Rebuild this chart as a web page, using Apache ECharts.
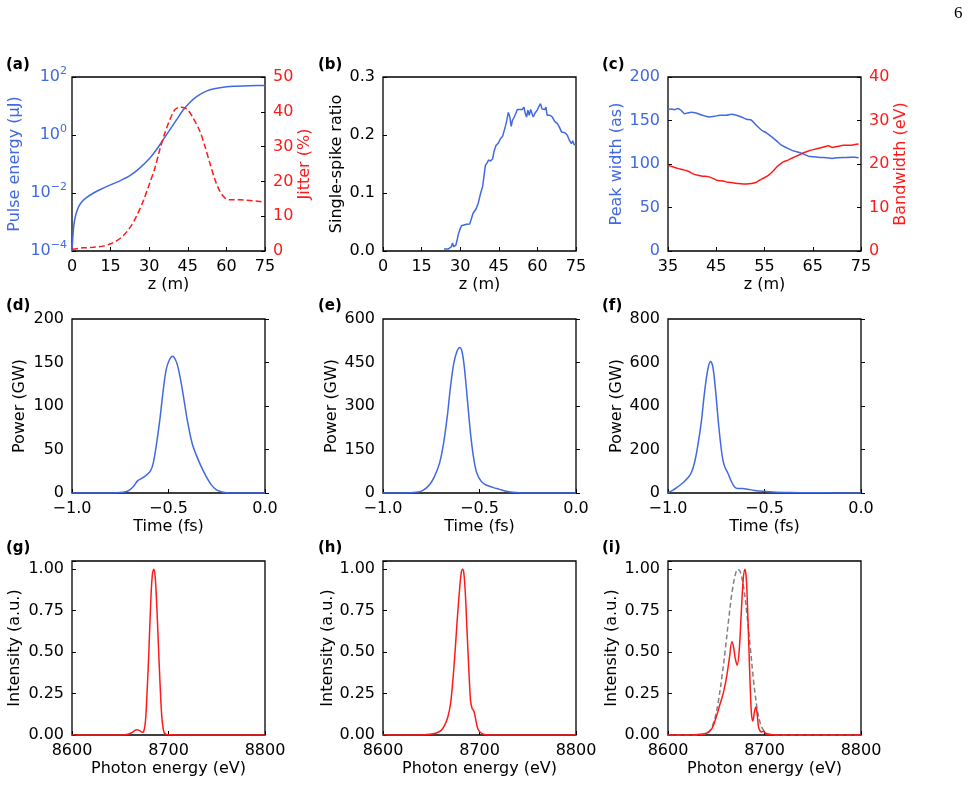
<!DOCTYPE html>
<html><head><meta charset="utf-8">
<script src="https://cdn.jsdelivr.net/npm/echarts@6/dist/echarts.min.js"></script>
<style>html,body{margin:0;padding:0;background:#fff}#c{width:971px;height:785px}</style>
</head><body><div id="c"></div>
<script>
// ---------- DATA ----------
// (a) pulse energy (uJ, log axis) and jitter (%) vs z (m)
const aZ = [0,0.26,0.65,1.3,2.3,3.6,5.6,8.2,10.8,14.7,18.6,22.5,26.3,30.2,32.8,35.4,38.0,40.6,43.2,45.8,48.4,51.0,53.6,57.5,62.7,69.2,75];
const aEnergy = [1e-4,2.4e-4,6.9e-4,1.55e-3,2.95e-3,4.7e-3,6.9e-3,9.8e-3,0.0129,0.0186,0.0263,0.0398,0.0724,0.158,0.309,0.676,1.51,3.31,7.24,13.2,20.9,28.8,36.3,42.7,47.9,50.1,51.3];
const aJitterZ = [0,4.3,8.2,12.1,14.7,17.3,19.9,22.5,25.0,27.6,30.2,32.2,34.1,36.1,38.0,40.0,41.9,43.9,45.2,47.1,49.7,51.7,53.6,55.6,57.5,59.5,61.4,65.3,69.2,73.1,75];
const aJitter = [0.5,0.9,1.05,1.4,2.0,2.9,4.4,6.7,9.9,14.2,19.5,23.8,29.1,33.9,37.7,40.6,41.3,41.1,40.4,38.2,34.4,30.0,25.2,20.4,17.1,15.2,14.7,14.7,14.5,14.2,14.0];
// (b) single-spike ratio vs z
const bZ = [23.7,25.3,26.0,26.6,27.0,27.5,28.3,28.8,29.2,29.8,30.5,31.1,32.4,33.7,34.4,35.0,36.1,37.0,37.9,38.7,39.3,39.8,40.5,41.0,41.8,42.6,43.1,43.9,44.8,45.7,46.5,47.0,47.5,48.0,48.7,49.3,49.8,50.3,51.0,51.6,52.2,53.2,54.1,54.8,55.3,55.8,56.3,56.8,57.4,57.9,58.4,59.0,59.9,60.7,61.2,61.8,62.3,62.9,63.3,63.8,64.9,65.8,66.8,67.7,68.5,69.4,70.7,71.6,72.4,73.2,73.7,74.2,75.0];
const bRatio = [0.0034,0.0034,0.006,0.0075,0.014,0.0075,0.010,0.019,0.0275,0.036,0.0436,0.042,0.046,0.0465,0.0488,0.065,0.072,0.082,0.099,0.111,0.131,0.148,0.152,0.157,0.155,0.159,0.171,0.182,0.186,0.194,0.198,0.200,0.214,0.223,0.239,0.231,0.215,0.225,0.231,0.237,0.244,0.244,0.244,0.248,0.237,0.231,0.243,0.234,0.244,0.237,0.231,0.237,0.243,0.25,0.254,0.245,0.248,0.244,0.248,0.234,0.234,0.231,0.223,0.220,0.214,0.205,0.204,0.200,0.191,0.185,0.19,0.184,0.182];
// (c) peak width (as) and bandwidth (eV) vs z
const cWidthZ = [35,35.6,36.3,37.0,37.7,38.4,39.1,39.8,40.8,41.5,42.6,43.6,44.7,45.7,47.1,48.1,49.2,50.2,51.3,52.3,53.3,54.4,55.4,56.5,57.5,58.5,59.6,60.6,61.7,63.1,64.1,65.1,66.5,67.9,69.0,70.0,71.4,72.8,73.8,74.5];
const cWidth = [162.5,163.3,162.5,163.7,161.8,157.9,158.7,159.5,158.7,157.2,155.3,154.1,154.9,156.0,156.0,157.2,156.0,154.1,151.4,150.3,144.5,138.8,135.8,131.2,126.6,121.6,118.5,115.9,114.0,111.3,109.0,108.2,107.5,107.1,106.3,107.1,107.5,107.8,107.8,107.1];
const cBandZ = [35,36.0,37.0,38.1,39.1,40.1,41.2,42.2,43.3,44.3,45.3,46.4,47.4,48.5,49.5,50.6,51.3,52.3,53.3,54.0,54.7,55.8,56.8,57.8,58.9,59.9,61.0,62.0,63.1,64.1,65.1,66.2,67.2,68.3,69.0,70.0,71.4,72.8,73.8,74.5];
const cBand = [19.7,19.35,19.0,18.7,18.4,17.8,17.4,17.2,17.1,16.7,16.2,16.1,15.8,15.7,15.5,15.4,15.4,15.5,15.8,16.3,16.7,17.4,18.4,19.6,20.5,20.9,21.5,22.0,22.6,23.0,23.3,23.6,23.9,24.2,23.8,24.0,24.3,24.3,24.5,24.6];
// (d)(e)(f) power (GW) vs time (fs)
const dTime = [-1.0,-0.8,-0.736,-0.710,-0.684,-0.659,-0.641,-0.616,-0.595,-0.581,-0.564,-0.547,-0.529,-0.512,-0.495,-0.478,-0.464,-0.452,-0.434,-0.417,-0.400,-0.378,-0.357,-0.331,-0.305,-0.279,-0.253,-0.228,-0.202,-0.167,0];
const dPower = [0,0,0.8,2.3,6.9,14.2,16.5,20.3,24.9,32.6,53.6,80.5,114.9,141.7,153.2,157.1,153.2,145.6,126.4,103.4,80.5,57.5,44.1,30.6,19.2,9.6,3.8,1.5,0.4,0,0];
const eTime = [-1.0,-0.897,-0.828,-0.793,-0.759,-0.733,-0.707,-0.686,-0.667,-0.650,-0.633,-0.617,-0.603,-0.593,-0.581,-0.569,-0.555,-0.543,-0.529,-0.514,-0.491,-0.466,-0.431,-0.397,-0.362,-0.328,-0.293,-0.259,0];
const ePower = [0,0,2.3,9.2,28.7,57.5,103,172,264,368,448,488,502,494,448,368,264,184,115,69,40,27.6,19.5,12.6,5.7,2.3,0.6,0,0];
const fTime = [-1.0,-0.976,-0.950,-0.924,-0.898,-0.880,-0.863,-0.846,-0.828,-0.811,-0.794,-0.780,-0.768,-0.754,-0.737,-0.719,-0.707,-0.690,-0.672,-0.655,-0.638,-0.612,-0.586,-0.551,-0.508,-0.456,-0.369,-0.283,-0.196,0];
const fPower = [3,12,28,46,69,92,138,215,322,460,567,605,582,475,307,169,123,92,54,28,21,21,17,12,8,4.6,2.3,1.5,0.8,0];
// (g)(h)(i) intensity (a.u.) vs photon energy (eV)
const gEnergy = [8600,8652.8,8657.9,8661.4,8664.8,8667.2,8670,8672.8,8674.5,8676.2,8677.9,8679.7,8681.4,8683.1,8684.8,8686.2,8687.9,8689.6,8691.4,8693.1,8695.2,8697.6,8701,8711,8800];
const gIntensity = [0,0,0.004,0.012,0.026,0.032,0.026,0.016,0.024,0.089,0.27,0.51,0.774,0.956,1.0,0.956,0.774,0.532,0.29,0.109,0.018,0.004,0.002,0,0];
const hEnergy = [8600,8637.9,8648.3,8655.2,8660.3,8663.8,8667.2,8670,8672.4,8674.8,8676.9,8679.3,8681,8682.4,8683.8,8685.5,8687.2,8689,8690.7,8692.4,8694.1,8695.9,8698.3,8701.7,8706.9,8717,8800];
const hIntensity = [0,0,0.004,0.012,0.028,0.058,0.109,0.19,0.33,0.512,0.694,0.875,0.976,1.0,0.976,0.835,0.613,0.391,0.21,0.159,0.145,0.099,0.038,0.012,0.002,0,0];
const iEnergy = [8600,8623,8633.4,8640.3,8645.5,8650,8654.1,8657.6,8661,8663.8,8666.2,8667.9,8669.7,8671.7,8673.8,8675.9,8677.9,8679.6,8681,8682.4,8683.8,8685.2,8686.5,8687.9,8689.6,8691,8692.4,8693.8,8695.5,8697.2,8699,8700.7,8704.1,8712.7,8800];
const iIntensity = [0,0,0.004,0.012,0.038,0.109,0.19,0.26,0.36,0.472,0.562,0.532,0.462,0.421,0.512,0.734,0.935,1.0,0.956,0.774,0.532,0.29,0.129,0.085,0.139,0.169,0.129,0.048,0.024,0.018,0.022,0.012,0.004,0,0];
const iRefEnergy = [8600,8626.5,8636.9,8642.1,8645.5,8649,8652.4,8655.9,8659.3,8662.8,8666.2,8669.7,8672.4,8674.8,8678.3,8681.7,8685.2,8688.6,8692.1,8695.5,8699,8702.4,8707.6,8712.7,8800];
const iRefIntensity = [0,0,0.004,0.018,0.048,0.109,0.21,0.351,0.512,0.694,0.855,0.966,1.0,0.986,0.895,0.734,0.532,0.331,0.169,0.073,0.028,0.008,0.002,0,0];
const panelLabels = ['(a)','(b)','(c)','(d)','(e)','(f)','(g)','(h)','(i)'];

// ---------- LAYOUT / STYLE ----------
const FONT = 'DejaVu Sans';
const BLUE = '#4169e1', RED = '#ff1a1a', GRAY = '#808080';
const COLS = [72, 383, 668], ROWS = [77, 319, 561], W = 193, H = 174;
const grids = [], xAxes = [], yAxes = [], series = [];

function addGrid(r, c) {
  grids.push({left: COLS[c], top: ROWS[r], width: W, height: H, show: true,
    borderColor: '#000', borderWidth: 1.3, containLabel: false, outerBoundsMode: 'none'});
  return grids.length - 1;
}
function tick() { return {show: true, inside: true, length: 4, lineStyle: {color: '#000', width: 1}}; }
const intFmt = v => String(Math.round(v));
const fix1 = v => (v < -1e-9 ? '\u2212' : '') + Math.abs(v).toFixed(1);
const fix2 = v => v > 1.0001 ? '' : v.toFixed(2);

function addX(gi, min, max, interval, name, fmt, gap) {
  xAxes.push({type: 'value', gridIndex: gi, min, max, interval, name, nameLocation: 'middle',
    nameGap: gap, nameTextStyle: {fontSize: 16, color: '#000', fontFamily: FONT},
    axisLine: {show: false}, axisTick: tick(), splitLine: {show: false},
    axisLabel: {fontSize: 16, color: '#000', fontFamily: FONT, margin: 8, formatter: fmt}});
  return xAxes.length - 1;
}
function addY(gi, o) {
  const color = o.color || '#000';
  const ax = {type: o.type || 'value', gridIndex: gi, min: o.min, max: o.max, interval: o.interval,
    position: o.position || 'left', name: o.name, nameLocation: 'middle', nameGap: o.gap,
    nameTextStyle: {fontSize: 16, color, fontFamily: FONT},
    axisLine: {show: false}, axisTick: tick(), splitLine: {show: false},
    axisLabel: {fontSize: 16, color, fontFamily: FONT, margin: o.margin || 8, formatter: o.fmt}};
  if (o.logBase) ax.logBase = o.logBase;
  if (o.rich) ax.axisLabel.rich = o.rich;
  yAxes.push(ax);
  return yAxes.length - 1;
}
function addLine(xi, yi, xs, ys, color, dash, smooth) {
  series.push({type: 'line', xAxisIndex: xi, yAxisIndex: yi, data: xs.map((x, i) => [x, ys[i]]),
    showSymbol: false, symbol: 'none', smooth: smooth, animation: false, silent: true,
    lineStyle: {color, width: 1.5, type: dash || 'solid'}});
}

// (a)
let g = addGrid(0, 0);
let xi = addX(g, 0, 75, 15, 'z (m)', intFmt, 26);
let yl = addY(g, {type: 'log', logBase: 10, min: 1e-4, max: 100, interval: 2, name: 'Pulse energy (\u00b5J)', gap: 49,
  color: BLUE, margin: 5,
  fmt: v => { const e = Math.round(Math.log10(v)); return '{b|10}{s|' + (e < 0 ? '\u2212' : '') + Math.abs(e) + '}'; },
  rich: {b: {fontSize: 16, color: BLUE, fontFamily: FONT, lineHeight: 22},
         s: {fontSize: 11, color: BLUE, fontFamily: FONT, lineHeight: 12, verticalAlign: 'top'}}});
let yr = addY(g, {min: 0, max: 50, interval: 10, position: 'right', name: 'Jitter (%)', gap: 32, color: RED, fmt: intFmt});
addLine(xi, yl, aZ, aEnergy, BLUE, null, 0.2);
addLine(xi, yr, aJitterZ, aJitter, RED, [6, 3], 0.3);

// (b)
g = addGrid(0, 1);
xi = addX(g, 0, 75, 15, 'z (m)', intFmt, 26);
yl = addY(g, {min: 0, max: 0.3, interval: 0.1, name: 'Single-spike ratio', gap: 38, fmt: fix1});
addLine(xi, yl, bZ, bRatio, BLUE, null, false);

// (c)
g = addGrid(0, 2);
xi = addX(g, 35, 75, 10, 'z (m)', intFmt, 26);
yl = addY(g, {min: 0, max: 200, interval: 50, name: 'Peak width (as)', gap: 43, color: BLUE, fmt: intFmt});
yr = addY(g, {min: 0, max: 40, interval: 10, position: 'right', name: 'Bandwidth (eV)', gap: 31, color: RED, fmt: intFmt});
addLine(xi, yl, cWidthZ, cWidth, BLUE, null, 0.2);
addLine(xi, yr, cBandZ, cBand, RED, null, 0.2);

// (d)(e)(f)
const powerPanels = [[dTime, dPower, 200, 50, 44], [eTime, ePower, 600, 150, 43], [fTime, fPower, 800, 200, 43]];
powerPanels.forEach((p, c) => {
  const gg = addGrid(1, c);
  const x = addX(gg, -1, 0, 0.5, 'Time (fs)', fix1, 26);
  const y = addY(gg, {min: 0, max: p[2], interval: p[3], name: 'Power (GW)', gap: p[4], fmt: intFmt});
  addLine(x, y, p[0], p[1], BLUE, null, 0.35);
});

// (g)(h)(i)
const specPanels = [[gEnergy, gIntensity, 49], [hEnergy, hIntensity, 47], [iEnergy, iIntensity, 48]];
specPanels.forEach((p, c) => {
  const gg = addGrid(2, c);
  const x = addX(gg, 8600, 8800, 100, 'Photon energy (eV)', intFmt, 26);
  const y = addY(gg, {min: 0, max: 1.05, interval: 0.25, name: 'Intensity (a.u.)', gap: p[2], fmt: fix2});
  if (c === 2) addLine(x, y, iRefEnergy, iRefIntensity, GRAY, [5, 3], 0.35);
  addLine(x, y, p[0], p[1], RED, null, 0.35);
});

// panel labels + page number
const labelPos = [[6, 58], [318, 58], [602, 58], [6, 299], [318, 299], [602, 299], [6, 541], [318, 541], [602, 541]];
const graphics = panelLabels.map((t, i) => ({type: 'text', left: labelPos[i][0], top: labelPos[i][1], silent: true,
  style: {text: t, font: 'bold 15px "DejaVu Sans"', fill: '#000'}}));
graphics.push({type: 'text', left: 954, top: 5, silent: true, style: {text: '6', font: '17px "Liberation Serif"', fill: '#000'}});

const chart = echarts.init(document.getElementById('c'), null, {renderer: 'canvas'});
chart.setOption({animation: false, backgroundColor: '#fff', grid: grids, xAxis: xAxes, yAxis: yAxes, series, graphic: graphics});
</script>
</body></html>
